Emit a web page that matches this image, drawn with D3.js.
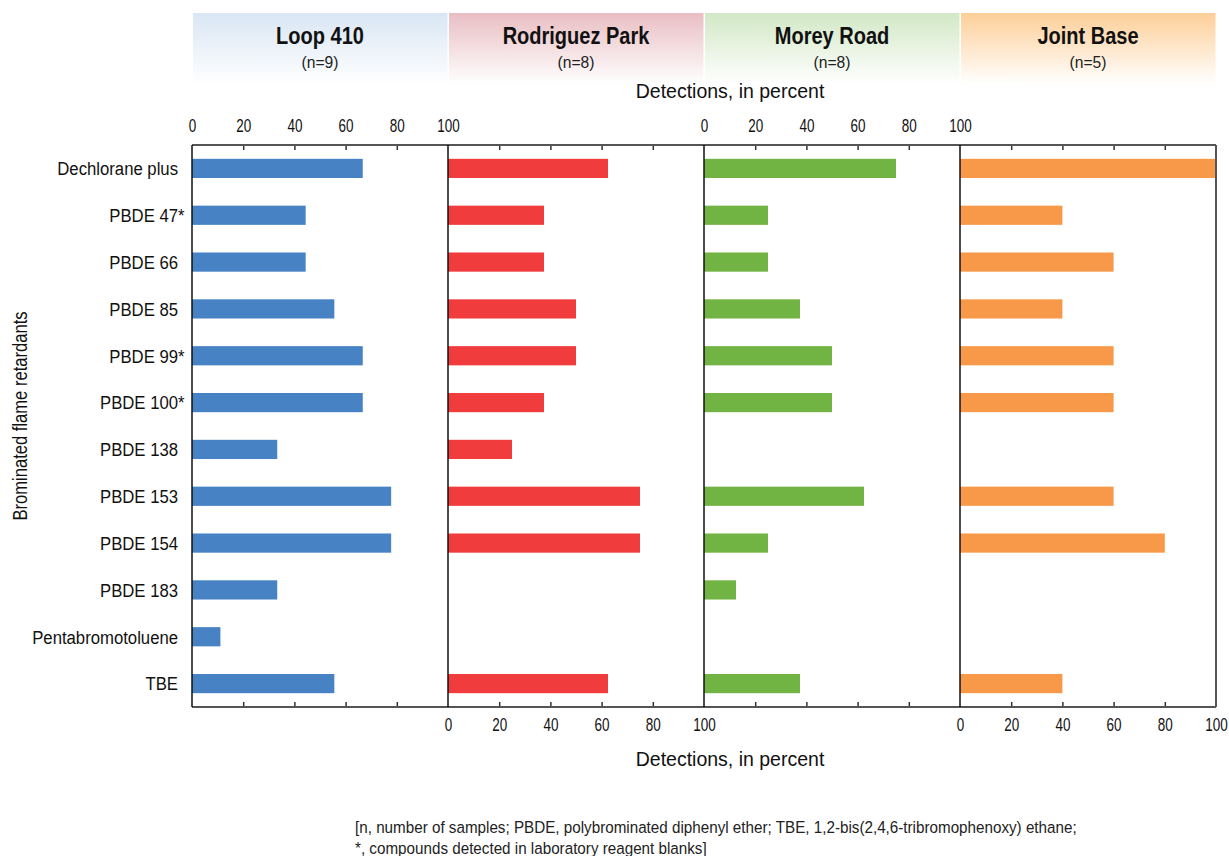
<!DOCTYPE html>
<html>
<head>
<meta charset="utf-8">
<script src="https://cdn.jsdelivr.net/npm/d3@7"></script>
<style>
  html, body { margin: 0; padding: 0; background: #fff; }
  svg { display: block; font-family: "Liberation Sans", Arial, sans-serif; }
</style>
</head>
<body>
<svg id="chart" width="1229" height="856"></svg>
<script>
// ---- data ----
const categories = ["Dechlorane plus", "PBDE 47*", "PBDE 66", "PBDE 85", "PBDE 99*", "PBDE 100*",
  "PBDE 138", "PBDE 153", "PBDE 154", "PBDE 183", "Pentabromotoluene", "TBE"];
const sites = ["Loop 410", "Rodriguez Park", "Morey Road", "Joint Base"];
const sampleCounts = ["(n=9)", "(n=8)", "(n=8)", "(n=5)"];
const loop410 = [66.7, 44.4, 44.4, 55.6, 66.7, 66.7, 33.3, 77.8, 77.8, 33.3, 11.1, 55.6];
const rodriguezPark = [62.5, 37.5, 37.5, 50, 50, 37.5, 25, 75, 75, 0, 0, 62.5];
const moreyRoad = [75, 25, 25, 37.5, 50, 50, 0, 62.5, 25, 12.5, 0, 37.5];
const jointBase = [100, 40, 60, 40, 60, 60, 0, 60, 80, 0, 0, 40];
const tickValues = [0, 20, 40, 60, 80, 100];
const xTitle = "Detections, in percent";
const yTitle = "Brominated flame retardants";
const footnote1 = "[n, number of samples; PBDE, polybrominated diphenyl ether; TBE, 1,2-bis(2,4,6-tribromophenoxy) ethane;";
const footnote2 = "*, compounds detected in laboratory reagent blanks]";

const seriesValues = [loop410, rodriguezPark, moreyRoad, jointBase];
const barColors = ["#4682c4", "#f03c3c", "#72b443", "#f8994a"];
const headerColors = ["#d9e6f4", "#e9bec3", "#d2e8c6", "#fdcf98"];

// ---- helpers ----
const svg = d3.select("#chart");
function ctext(parent, x, y, str, size, sx, anchor, extra) {
  const g = parent.append("g").attr("transform", `translate(${x},${y}) scale(${sx},1)`);
  const t = g.append("text").attr("x", 0).attr("y", 0)
    .attr("text-anchor", anchor || "start").attr("font-size", size).attr("fill", "#111").text(str);
  if (extra) extra(t);
  return t;
}

// ---- layout ----
const plotTop = 145, plotBottom = 707, plotLeft = 192, panelW = 256;
const headerTop = 13, headerBottom = 84;

const y = d3.scaleBand().domain(categories).range([plotTop, plotBottom])
  .paddingInner(0.59).paddingOuter(0.295);

const xs = sites.map((s, i) => d3.scaleLinear().domain([0, 100])
  .range([plotLeft + panelW * i, plotLeft + panelW * (i + 1)]));

// gradients
const defs = svg.append("defs");
headerColors.forEach((c, i) => {
  const g = defs.append("linearGradient").attr("id", "hg" + i)
    .attr("x1", 0).attr("y1", 0).attr("x2", 0).attr("y2", 1);
  g.append("stop").attr("offset", "0%").attr("stop-color", c);
  g.append("stop").attr("offset", "100%").attr("stop-color", "#ffffff");
});

// headers
sites.forEach((s, i) => {
  const x0 = xs[i](0), x1 = xs[i](100);
  svg.append("rect").attr("x", x0 + 1).attr("y", headerTop)
    .attr("width", x1 - x0 - 1.5).attr("height", headerBottom - headerTop)
    .attr("fill", `url(#hg${i})`);
  ctext(svg, (x0 + x1) / 2, 44, s, 23, 0.87, "middle", t => t.attr("font-weight", "bold"));
  ctext(svg, (x0 + x1) / 2, 68, sampleCounts[i], 16.5, 0.95, "middle", t => t.attr("fill", "#222"));
});

// bars
sites.forEach((s, i) => {
  const data = categories.map((c, k) => ({ c, v: seriesValues[i][k] })).filter(d => d.v > 0);
  svg.append("g").selectAll("rect").data(data).join("rect")
    .attr("x", xs[i](0))
    .attr("y", d => y(d.c))
    .attr("width", d => xs[i](d.v) - xs[i](0))
    .attr("height", y.bandwidth())
    .attr("fill", barColors[i]);
});

// inner ticks
sites.forEach((s, i) => {
  const gt = svg.append("g").attr("transform", `translate(0,${plotTop})`)
    .call(d3.axisTop(xs[i]).tickValues([20, 40, 60, 80]).tickSize(-5).tickFormat(""));
  gt.select(".domain").remove();
  gt.selectAll("line").attr("stroke", "#333").attr("stroke-width", 1.5);
  const gb = svg.append("g").attr("transform", `translate(0,${plotBottom})`)
    .call(d3.axisBottom(xs[i]).tickValues([20, 40, 60, 80]).tickSize(-5).tickFormat(""));
  gb.select(".domain").remove();
  gb.selectAll("line").attr("stroke", "#333").attr("stroke-width", 1.5);
});

// tick labels
sites.forEach((s, i) => {
  const top = i % 2 === 0;
  const ax = top ? d3.axisTop(xs[i]) : d3.axisBottom(xs[i]);
  const g = svg.append("g").attr("transform", `translate(0,${top ? 137 : 714})`)
    .call(ax.tickValues(tickValues).tickSize(0).tickPadding(0));
  g.select(".domain").remove();
  g.selectAll("text").attr("font-size", 17.5).attr("fill", "#111")
    .attr("font-family", "Liberation Sans, Arial, sans-serif")
    .attr("transform", "scale(0.77,1)")
    .attr("dy", top ? "-0.3em" : "0.95em");
});

// frame
svg.append("line").attr("x1", plotLeft).attr("x2", xs[3](100)).attr("y1", plotTop).attr("y2", plotTop)
  .attr("stroke", "#555").attr("stroke-width", 2);
svg.append("line").attr("x1", plotLeft).attr("x2", xs[3](100)).attr("y1", plotBottom).attr("y2", plotBottom)
  .attr("stroke", "#555").attr("stroke-width", 2);
[0, 1, 2, 3].forEach(i => {
  svg.append("line").attr("x1", xs[i](0)).attr("x2", xs[i](0)).attr("y1", plotTop).attr("y2", plotBottom)
    .attr("stroke", "#111").attr("stroke-width", 1.5);
});
svg.append("line").attr("x1", xs[3](100)).attr("x2", xs[3](100)).attr("y1", plotTop).attr("y2", plotBottom)
  .attr("stroke", "#555").attr("stroke-width", 2);

// category labels (asterisk hangs past the alignment edge)
categories.forEach(c => {
  const cy = y(c) + y.bandwidth() / 2;
  const star = c.endsWith("*");
  const base = star ? c.slice(0, -1) : c;
  ctext(svg, 178, cy, base, 19, 0.88, "end", t => t.attr("dy", "0.36em"));
  if (star) ctext(svg, 178, cy, "*", 19, 0.88, "start", t => t.attr("dy", "0.36em"));
});

// axis titles
ctext(svg, 730, 98, xTitle, 19.5, 1, "middle");
ctext(svg, 730, 766, xTitle, 19.5, 1, "middle");
svg.append("g").attr("transform", "translate(27,416) rotate(-90) scale(0.83,1)")
  .append("text").attr("text-anchor", "middle").attr("font-size", 20).attr("fill", "#111").text(yTitle);

// footnote
ctext(svg, 355, 833, footnote1, 17, 0.895, "start", t => t.attr("fill", "#222"));
ctext(svg, 355, 854, footnote2, 17, 0.895, "start", t => t.attr("fill", "#222"));
</script>
</body>
</html>
